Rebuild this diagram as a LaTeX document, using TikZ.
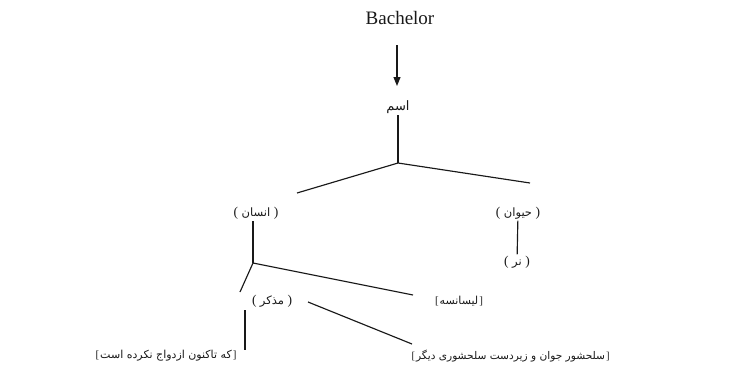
\documentclass[tikz,border=0pt]{standalone}
\usepackage{fontspec}
\setmainfont{Liberation Serif}
\newfontfamily\persfont[Script=Arabic]{DejaVu Sans}
\TeXXeTstate=1
\usetikzlibrary{arrows.meta}
\newcommand{\lpar}{{\rmfamily\fontsize{13.5}{14}\selectfont(}\hspace{3.5pt}}
\newcommand{\rpar}{\hspace{3.5pt}{\rmfamily\fontsize{13.5}{14}\selectfont)}}
\newcommand{\lbrk}{{\rmfamily[}\hspace{1pt}}
\newcommand{\rbrk}{\hspace{1pt}{\rmfamily]}}
\begin{document}
\begin{tikzpicture}[x=1pt,y=-1pt,
  line width=1.15pt, draw=black!90,
  lbl/.style={inner sep=1pt, text=black!90, font=\persfont\fontsize{11.5}{13}\selectfont},
  arr/.style={-{Triangle[length=9pt,width=7pt]}}]
\useasboundingbox (0,0) rectangle (741,373);
\node[font=\fontsize{19}{22}\selectfont, text=black!90] (bach) at (400,18) {Bachelor};
\node[lbl, font=\persfont\fontsize{13}{15}\selectfont] (esm) at (398,107) {\beginR اسم\endR};
\coordinate (a1) at (397,45);
\coordinate (a2) at (397,86);
\draw[arr] (a1) -- (a2);
\coordinate (b1) at (398,163);
\coordinate (l1) at (297,193);
\coordinate (r1) at (530,183);
\draw (esm.south) -- (b1);
\draw (l1) -- (b1) -- (r1);
\node[lbl] (ensan) at (256,213) {\lpar\beginR انسان\endR\rpar};
\node[lbl] (heyvan) at (518,213) {\lpar\beginR حیوان\endR\rpar};
\node[lbl] (nar) at (517,262) {\lpar\beginR نر\endR\rpar};
\draw (heyvan) -- (nar);
\coordinate (b2) at (253,263);
\coordinate (l2) at (413,295);
\coordinate (l3) at (240,292);
\coordinate (e1) at (253,221);
\draw (e1) -- (b2);
\draw (l3) -- (b2) -- (l2);
\node[lbl] (mozakkar) at (272,301) {\lpar\beginR مذکر\endR\rpar};
\node[lbl, font=\persfont\fontsize{11}{13}\selectfont] (lisans) at (459,301) {\lbrk\beginR لیسانسه\endR\rbrk};
\coordinate (m1) at (308,302);
\coordinate (m2) at (412,344);
\draw (m1) -- (m2);
\coordinate (v1) at (245,310);
\coordinate (v2) at (245,350);
\draw (v1) -- (v2);
\node[lbl, font=\persfont\fontsize{11}{13}\selectfont, anchor=east] (bl) at (238,356) {\lbrk\beginR که تاکنون ازدواج نکرده است\endR\rbrk};
\node[lbl, font=\persfont\fontsize{10.6}{13}\selectfont, anchor=west] (br) at (410,356) {\lbrk\beginR سلحشور جوان و زیردست سلحشوری دیگر\endR\rbrk};
\end{tikzpicture}
\end{document}
